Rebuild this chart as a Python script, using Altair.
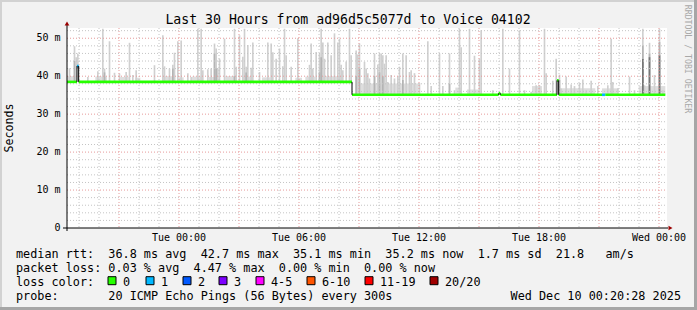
import altair as alt
import pandas as pd

# ---------------- data ----------------
TITLE = "Last 30 Hours from ad96d5c5077d to Voice 04102"
START = "2025-12-08T18:24:00Z"
SPAN_H = 30
STEP_MIN = 5

# median rtt segments: start (minutes after START), median (ms), loss bucket
seg_start = [0, 30, 35, 855, 1295, 1300, 1470, 1475, 1605, 1615]
seg_median = [38.5, 42.7, 38.5, 35.1, 35.5, 35.1, 38.9, 35.1, 35.1, 35.1]
seg_loss = ["0", "1", "0", "0", "0", "0", "0", "0", "1", "0"]
data_end = 1795

# low smoke bands: start / end (minutes after START) and top (ms)
low_start = [0, 85, 160, 205, 285, 335, 375, 425, 475, 525, 585, 685, 715, 765,
             880, 1165, 1200, 1395, 1485, 1605, 1715]
low_end = [30, 120, 185, 220, 325, 350, 405, 450, 505, 555, 610, 705, 745, 825,
           1055, 1185, 1240, 1425, 1585, 1655, 1795]
low_top = [40.0, 39.9, 39.8, 39.6, 40.0, 39.7, 39.9, 39.8, 40.0, 39.9, 39.7, 39.6, 39.9, 40.0,
           38.1, 37.0, 36.5, 37.4, 36.8, 36.8, 37.4]

# smoke spikes: interval start (minutes after START) and top of the smoke (ms)
smoke_t = [5, 20, 25, 30, 60, 90, 105, 110, 125, 140, 155, 175,
           185, 195, 205, 260, 285, 290, 305, 315, 320, 330, 340, 360,
           370, 390, 400, 405, 420, 430, 440, 445, 450, 455, 470, 500,
           505, 515, 525, 530, 535, 540, 550, 555, 575, 600, 610, 615,
           625, 635, 645, 650, 655, 670, 690, 725, 730, 735, 745, 755,
           760, 765, 770, 780, 790, 800, 810, 815, 820, 825, 835, 845,
           850, 865, 870, 875, 890, 895, 900, 905, 920, 930, 935, 940,
           945, 950, 955, 960, 970, 980, 990, 995, 1005, 1015, 1025, 1030,
           1040, 1055, 1080, 1090, 1115, 1125, 1145, 1160, 1175, 1180, 1205, 1220,
           1235, 1240, 1275, 1305, 1325, 1355, 1370, 1390, 1405, 1415, 1430, 1435,
           1455, 1465, 1475, 1480, 1495, 1510, 1520, 1535, 1545, 1555, 1570, 1590,
           1620, 1630, 1635, 1650, 1685, 1700, 1725, 1730, 1745, 1760, 1775, 1785]
smoke_top = [42.1, 47.9, 45.0, 46.0, 39.8, 41.3, 52.5, 42.0, 49.2, 40.9, 40.7, 41.1,
             48.8, 40.3, 41.6, 42.9, 50.8, 42.6, 42.0, 43.0, 46.2, 49.2, 49.4, 40.8,
             39.8, 52.5, 52.5, 41.6, 41.8, 42.0, 48.6, 47.3, 42.0, 44.6, 49.9, 52.5,
             42.5, 50.8, 45.1, 52.5, 42.5, 48.2, 42.2, 48.9, 41.1, 48.9, 48.6, 46.3,
             44.6, 47.3, 42.6, 52.5, 45.5, 42.5, 50.0, 43.0, 48.6, 42.0, 46.4, 46.0,
             52.5, 48.9, 44.6, 48.9, 45.5, 51.3, 48.9, 49.9, 43.0, 41.6, 43.9, 52.5,
             45.5, 46.8, 45.7, 48.6, 43.8, 42.0, 40.8, 39.4, 46.0, 43.1, 46.0, 46.0,
             45.5, 43.3, 45.5, 38.5, 40.3, 39.4, 39.9, 42.5, 46.0, 45.5, 41.1, 41.6,
             40.8, 38.2, 49.2, 37.4, 46.0, 37.4, 46.0, 36.3, 52.5, 47.6, 52.5, 45.4,
             44.6, 52.1, 36.3, 52.5, 42.0, 52.1, 36.3, 35.9, 37.6, 37.6, 52.5, 40.8,
             38.8, 44.6, 40.4, 36.8, 39.9, 37.8, 37.4, 38.2, 39.1, 36.3, 38.8, 37.4,
             37.6, 49.9, 38.5, 36.8, 39.9, 36.3, 52.5, 37.6, 48.8, 40.3, 52.5, 36.3]
# darker inner smoke
mid_t = [20, 30, 110, 315, 440, 445, 500, 535, 755, 760, 865, 875, 920, 935, 945, 1005,
         1145, 1475, 1725, 1745, 1775]
mid_top = [44.0, 42.0, 41.0, 42.0, 46.0, 42.0, 40.0, 41.0, 41.0, 45.0, 40.0, 42.0, 40.0,
           41.0, 40.0, 39.0, 38.0, 39.0, 48.0, 46.0, 49.0]
core_t = [1725, 1745, 1775]
core_top = [44.5, 45.0, 45.5]

loss_labels = ["0", "1", "2", "3", "4-5", "6-10", "11-19", "20/20"]
loss_colors = ["#26ff00", "#00b8ff", "#0059ff", "#7e00ff", "#ff00ff", "#ff5500", "#ff0000", "#a00000"]

legend_row1 = "median rtt:  36.8 ms avg  42.7 ms max  35.1 ms min  35.2 ms now  1.7 ms sd  21.8   am/s"
legend_row2 = "packet loss: 0.03 % avg  4.47 % max  0.00 % min  0.00 % now"
legend_row3 = "loss color:"
legend_row4 = "probe:       20 ICMP Echo Pings (56 Bytes) every 300s"
stamp = "Wed Dec 10 00:20:28 2025"
y_title = "Seconds"
watermark = "RRDTOOL / TOBI OETIKER"

x_label_times = ["2025-12-09T00:00:00Z", "2025-12-09T06:00:00Z", "2025-12-09T12:00:00Z",
                 "2025-12-09T18:00:00Z", "2025-12-10T00:00:00Z"]
y_label_values = [0, 10, 20, 30, 40, 50]

# ---------------- layout ----------------
W, H = 697, 310
PL, PT, PW, PH = 67, 28, 600, 200
MONO = "DejaVu Sans Mono"
NBSP = "\u00a0"

MIN_MS = 60000
t0 = pd.Timestamp(START).value // 10**6
t_end = t0 + SPAN_H * 3600000


def ms(m):
    return t0 + m * MIN_MS


xscale = alt.Scale(type="utc", domain=[t0, t_end])
yscale = alt.Scale(domain=[0, 52.7], nice=False, zero=False)

seg_end = seg_start[1:] + [data_end]
seg_df = pd.DataFrame({
    "t": [ms(s) for s in seg_start],
    "t2": [ms(e) for e in seg_end],
    "median": seg_median,
    "loss": seg_loss,
})
jumps = []
for i in range(1, len(seg_start)):
    if seg_median[i] != seg_median[i - 1]:
        jumps.append({"t": ms(seg_start[i]), "a": seg_median[i - 1], "b": seg_median[i]})
jump_df = pd.DataFrame(jumps)


def median_at(m):
    val = seg_median[0]
    for s, v in zip(seg_start, seg_median):
        if m >= s:
            val = v
    return val


def smoke_table(ts, tops, ends=None):
    if ends is None:
        ends = [m + STEP_MIN for m in ts]
    return pd.DataFrame({
        "t": [ms(m) for m in ts],
        "t2": [ms(e) for e in ends],
        "base": [median_at(m) for m in ts],
        "top": tops,
    })


low_df = smoke_table(low_start, low_top, low_end)
smoke_df = smoke_table(smoke_t, smoke_top)
mid_df = smoke_table(mid_t, mid_top)
core_df = smoke_table(core_t, core_top)

hours = pd.date_range(pd.Timestamp(START).ceil("h"), pd.Timestamp(START) + pd.Timedelta(hours=SPAN_H), freq="h")
vgrid = pd.DataFrame({"t": [h.value // 10**6 for h in hours], "major": [h.hour % 3 == 0 for h in hours]})
hgrid = pd.DataFrame({"v": list(range(2, 53, 2))})
hgrid["major"] = hgrid["v"] % 10 == 0


def X(f):
    return alt.X(f, type="temporal", scale=xscale, axis=None)


def Y(f):
    return alt.Y(f, type="quantitative", scale=yscale, axis=None)


low = alt.Chart(low_df).mark_rect(color="#dedede", clip=True).encode(
    x=X("t"), x2="t2", y=Y("base"), y2="top")
smoke = alt.Chart(smoke_df).mark_rect(color="#d0d0d0", clip=True).encode(
    x=X("t"), x2="t2", y=Y("base"), y2="top")
smoke_mid_l = alt.Chart(mid_df).mark_rect(color="#b4b4b4", clip=True).encode(
    x=X("t"), x2="t2", y=Y("base"), y2="top")
smoke_core = alt.Chart(core_df).mark_rect(color="#767676", clip=True).encode(
    x=X("t"), x2="t2", y=Y("base"), y2="top")

GRID_MINOR = "#c4c4c4"
GRID_MAJOR = "#e69a9a"
vminor = alt.Chart(vgrid[~vgrid["major"]]).mark_rule(color=GRID_MINOR, strokeDash=[1, 2], strokeWidth=1).encode(
    x=X("t"), y=alt.value(0), y2=alt.value(PH))
vmajor = alt.Chart(vgrid[vgrid["major"]]).mark_rule(color=GRID_MAJOR, strokeDash=[1, 2], strokeWidth=1).encode(
    x=X("t"), y=alt.value(0), y2=alt.value(PH))
hminor = alt.Chart(hgrid[~hgrid["major"]]).mark_rule(color=GRID_MINOR, strokeDash=[1, 2], strokeWidth=1).encode(
    y=Y("v"), x=alt.value(0), x2=alt.value(PW))
hmajor = alt.Chart(hgrid[hgrid["major"]]).mark_rule(color=GRID_MAJOR, strokeDash=[1, 2], strokeWidth=1).encode(
    y=Y("v"), x=alt.value(0), x2=alt.value(PW))

median_line = alt.Chart(seg_df).mark_rule(strokeWidth=2.6, strokeCap="butt", clip=True).encode(
    x=X("t"), x2="t2", y=Y("median"),
    color=alt.Color("loss:N", scale=alt.Scale(domain=loss_labels, range=loss_colors), legend=None))
jump_line = alt.Chart(jump_df).mark_rule(color="black", strokeWidth=1).encode(
    x=X("t"), y=Y("a"), y2="b")

# axis tick labels drawn through the scales
xlab_df = pd.DataFrame({"t": [pd.Timestamp(s).value // 10**6 for s in x_label_times]})
xlabels = alt.Chart(xlab_df).transform_calculate(
    lab="utcFormat(datum.t, '%a %H:%M')"
).mark_text(font=MONO, fontSize=10, baseline="alphabetic", align="center", color="black").encode(
    x=X("t"), y=alt.value(PH + 12.7), text="lab:N")
ylab_df = pd.DataFrame({"v": y_label_values})
ylabels = alt.Chart(ylab_df).transform_calculate(
    lab="datum.v == 0 ? '0" + NBSP + "' : datum.v + '" + NBSP + "m'"
).mark_text(font=MONO, fontSize=10, baseline="middle", align="right", color="black").encode(
    y=Y("v"), x=alt.value(-6.5), text="lab:N")

plot = alt.layer(low, smoke, smoke_mid_l, smoke_core, vminor, hminor, vmajor, hmajor,
                 median_line, jump_line, xlabels, ylabels)

# ---------------- overlay (pixel positions relative to plot origin) ----------------
PX = lambda f: alt.X(f, type="quantitative", scale=None, axis=None)
PY = lambda f: alt.Y(f, type="quantitative", scale=None, axis=None)

frame = pd.DataFrame([
    {"x": 0, "x2": W, "y": 0, "y2": 2, "c": "#d2d2d2"},
    {"x": 0, "x2": 2, "y": 0, "y2": H, "c": "#d2d2d2"},
    {"x": W - 3, "x2": W, "y": 0, "y2": H, "c": "#a6a6a6"},
    {"x": 0, "x2": W, "y": H - 3, "y2": H, "c": "#a6a6a6"},
])
frame[["x", "x2"]] -= PL
frame[["y", "y2"]] -= PT
frame_l = alt.Chart(frame).mark_rect().encode(
    x=PX("x"), x2="x2", y=PY("y"), y2="y2", color=alt.Color("c:N", scale=None))

axlines = pd.DataFrame([
    {"x": 63, "x2": 668, "y": 228, "y2": 228},
    {"x": 67, "x2": 67, "y": 25, "y2": 231},
])
axlines[["x", "x2"]] -= PL
axlines[["y", "y2"]] -= PT
axlines_l = alt.Chart(axlines).mark_rule(color="black", strokeWidth=1).encode(
    x=PX("x"), x2="x2", y=PY("y"), y2="y2")

arrows = pd.DataFrame([
    {"x": 670.5 - PL, "y": 228 - PT, "s": "triangle-right"},
    {"x": 67 - PL, "y": 23.5 - PT, "s": "triangle-up"},
])
arrows_l = alt.Chart(arrows).mark_point(filled=True, color="#9a0000", size=22, opacity=1).encode(
    x=PX("x"), y=PY("y"), shape=alt.Shape("s:N", scale=None))

row_y = [257.7, 271.7, 285.5, 299.5]
rows = [legend_row1, legend_row2, legend_row3, legend_row4]
text_df = pd.DataFrame({"x": [16 - PL] * 4, "y": [y - PT for y in row_y],
                        "s": [r.replace(" ", NBSP) for r in rows]})
LEG_FS = 11.8
text_l = alt.Chart(text_df).mark_text(font=MONO, fontSize=LEG_FS, align="left", baseline="alphabetic",
                                      color="black").encode(x=PX("x"), y=PY("y"), text="s:N")

box_x = [108, 146, 183, 219, 256, 307, 365, 430]
boxlab_df = pd.DataFrame({"x": [b + 15 - PL for b in box_x], "y": [row_y[2] - PT] * 8, "s": loss_labels})
boxlab_l = alt.Chart(boxlab_df).mark_text(font=MONO, fontSize=LEG_FS, align="left", baseline="alphabetic",
                                          color="black").encode(x=PX("x"), y=PY("y"), text="s:N")

stamp_l = alt.Chart(pd.DataFrame({"x": [681 - PL], "y": [row_y[3] - PT], "s": [stamp]})).mark_text(
    font=MONO, fontSize=LEG_FS, align="right", baseline="alphabetic", color="black").encode(
    x=PX("x"), y=PY("y"), text="s:N")

boxes = pd.DataFrame({"x": [b - PL for b in box_x], "x2": [b + 8 - PL for b in box_x],
                      "y": [276.7 - PT] * 8, "y2": [284.7 - PT] * 8, "c": loss_colors})
boxes_l = alt.Chart(boxes).mark_rect(stroke="black", strokeWidth=1).encode(
    x=PX("x"), x2="x2", y=PY("y"), y2="y2", color=alt.Color("c:N", scale=None))

title_l = alt.Chart(pd.DataFrame({"x": [348 - PL], "y": [24 - PT], "s": [TITLE]})).mark_text(
    font=MONO, fontSize=13.2, align="center", baseline="alphabetic", color="black").encode(
    x=PX("x"), y=PY("y"), text="s:N")

ytitle_l = alt.Chart(pd.DataFrame({"x": [10 - PL], "y": [128 - PT], "s": [y_title]})).mark_text(
    font=MONO, fontSize=11.6, align="center", baseline="middle", angle=270, color="black").encode(
    x=PX("x"), y=PY("y"), text="s:N")

wm_l = alt.Chart(pd.DataFrame({"x": [687 - PL], "y": [59 - PT], "s": [watermark]})).mark_text(
    font=MONO, fontSize=8.2, align="center", baseline="middle", angle=90, color="#a8a8a8").encode(
    x=PX("x"), y=PY("y"), text="s:N")

overlay = alt.layer(frame_l, axlines_l, arrows_l, text_l, boxlab_l, stamp_l, boxes_l, title_l,
                    ytitle_l, wm_l)

chart = alt.layer(plot, overlay).resolve_scale(
    x="independent", y="independent", color="independent", shape="independent"
).properties(
    width=PW, height=PH,
    padding={"left": PL, "top": PT, "right": W - PL - PW, "bottom": H - PT - PH},
    autosize=alt.AutoSizeParams(type="none"),
).configure(background="#f2f2f2").configure_view(fill="white", strokeWidth=0)

chart.save("out.html", embed_options={"renderer": "svg", "actions": False})
